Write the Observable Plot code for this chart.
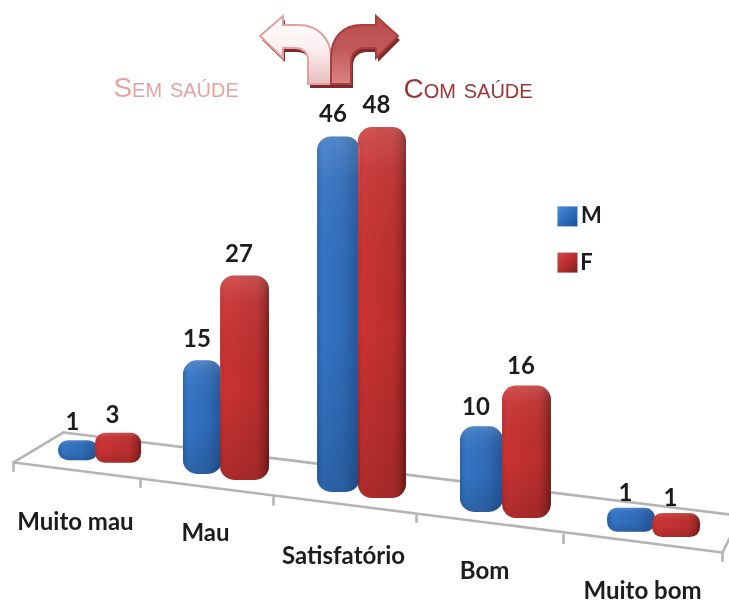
<!DOCTYPE html>
<html lang="pt">
<head>
<meta charset="utf-8">
<script src="https://cdn.jsdelivr.net/npm/d3@7"></script>
<script src="https://cdn.jsdelivr.net/npm/@observablehq/plot@0.6"></script>
<style>
html,body{margin:0;padding:0;background:#fff}
#chart svg{display:block;filter:blur(.45px)}
</style>
</head>
<body>
<div id="chart"></div>
<script>
// ---- chart data
const categories = ["Muito mau", "Mau", "Satisfatório", "Bom", "Muito bom"];
const seriesNames = ["M", "F"];
const valuesM = [1, 15, 46, 10, 1];
const valuesF = [3, 27, 48, 16, 1];
const headingLeft = "Sem saúde";
const headingRight = "Com saúde";

// ---- perspective layout of the tilted floor (in scale units)
const floorTicks = [0, 1, 2, 3, 4, 5];
const floorFront = [5.02, 2.90, 0.55, -1.72, -4.5, -6.86];
const barStart = [0.354, 0.323, 0.308, 0.299, 0.277];
const barSplitM = [0.669, 0.617, 0.608, 0.592, 0.579];
const barSplitF = [0.646, 0.602, 0.594, 0.585, 0.560];
const barEnd = [1.008, 0.970, 0.930, 0.918, 0.862];
const floorM = [5.25, 3.43, 1.06, -1.58, -4.2];
const floorF = [4.9, 2.64, 0.26, -2.38, -4.9];
const depthScale = [0.66, 1, 1.02, 1.03, 1];
const bevel = [1.98, 0, 0, 1, 2.17];
const labelLift = [2.4, 2.8, 3.0, 2.6, 2.0];
const categoryX = [0.488, 1.489, 2.49, 3.463, 4.497];
const categoryY = [-2.9, -4.36, -7.39, -9.37, -12.05];
const isFlat = [true, false, false, false, true];

const bars = categories.flatMap((category, i) => [
  {category, series: "M", flat: isFlat[i], value: valuesM[i], x1: i + barStart[i], x2: i + barSplitM[i],
   y1: floorM[i], y2: floorM[i] + valuesM[i] * depthScale[i] + bevel[i], lift: labelLift[i]},
  {category, series: "F", flat: isFlat[i], value: valuesF[i], x1: i + barSplitF[i], x2: i + barEnd[i],
   y1: floorF[i], y2: floorF[i] + valuesF[i] * depthScale[i] + bevel[i], lift: labelLift[i]}
]);
const tallBars = bars.filter(d => !d.flat);
const flatBars = bars.filter(d => d.flat);

const floorEdges = [
  [{x: 0, y: 5.02}, {x: 5, y: -6.86}, {x: 5.044, y: -5.02}],
  [{x: 0.394, y: 8.98}, {x: 5.044, y: -1.85}],
  [{x: 0, y: 5.02}, {x: 0.394, y: 8.98}]
];

const legend = [
  {name: seriesNames[0], x: 4.025, y: 37.5, tx: 4.176, fill: "url(#swBlue)"},
  {name: seriesNames[1], x: 4.025, y: 31.4, tx: 4.145, fill: "url(#swRed)"}
];

const SVGNS = "http://www.w3.org/2000/svg";
function raw(html) {
  return () => {
    const g = document.createElementNS(SVGNS, "g");
    g.innerHTML = html;
    return g;
  };
}

const defs = `<defs>
<linearGradient id="blue" x1="0" x2="1" y1="0" y2="0">
 <stop offset="0" stop-color="#2a63ad"/><stop offset=".14" stop-color="#3474c4"/>
 <stop offset=".6" stop-color="#2f6cb8"/><stop offset="1" stop-color="#245597"/>
</linearGradient>
<linearGradient id="red" x1="0" x2="1" y1="0" y2="0">
 <stop offset="0" stop-color="#bd2e2e"/><stop offset=".12" stop-color="#c93332"/>
 <stop offset=".75" stop-color="#b92f2e"/><stop offset=".9" stop-color="#9c2625"/><stop offset="1" stop-color="#741b1b"/>
</linearGradient>
<linearGradient id="gloss" x1="0" x2="0" y1="0" y2="1">
 <stop offset="0" stop-color="#fff" stop-opacity=".16"/><stop offset=".12" stop-color="#fff" stop-opacity=".05"/>
 <stop offset=".55" stop-color="#000" stop-opacity="0"/><stop offset="1" stop-color="#000" stop-opacity=".14"/>
</linearGradient>
<linearGradient id="swBlue" x1="0" x2="1" y1="0" y2="1">
 <stop offset="0" stop-color="#4a8ad6"/><stop offset=".5" stop-color="#2f6fbd"/><stop offset="1" stop-color="#1f4f8e"/>
</linearGradient>
<linearGradient id="swRed" x1="0" x2="1" y1="0" y2="1">
 <stop offset="0" stop-color="#d04a4a"/><stop offset=".5" stop-color="#b92f2f"/><stop offset="1" stop-color="#7a1f1f"/>
</linearGradient>
<linearGradient id="arrowL" x1="0" x2="0" y1="0" y2="1">
 <stop offset="0" stop-color="#fff"/><stop offset=".5" stop-color="#fbeeee"/><stop offset="1" stop-color="#e9bcbc"/>
</linearGradient>
<linearGradient id="arrowR" x1="0" x2="0" y1="0" y2="1">
 <stop offset="0" stop-color="#b84b4b"/><stop offset=".5" stop-color="#c25a5a"/><stop offset="1" stop-color="#da8484"/>
</linearGradient>
</defs>`;

// decorative fork of arrows above the chart
const leftArrow = "M260,36 L283,16 L283,25 L298,25 C318,25 331,38 331,58 L331,84 L308,84 L308,60 C308,52 302,48 295,48 L283,48 L283,58 Z";
const rightArrow = "M398,36 L376,16 L376,25 L362,25 C342,25 331,38 331,58 L331,84 L351,84 L351,62 C351,53 357,48 365,48 L376,48 L376,58 Z";
const arrows = `<g>
 <path d="${leftArrow}" transform="translate(2,4)" fill="#7f2a2a"/>
 <path d="${rightArrow}" transform="translate(2,4)" fill="#7f2a2a"/>
 <path d="${leftArrow}" fill="url(#arrowL)" stroke="#e3a0a0" stroke-width="2"/>
 <path d="${rightArrow}" fill="url(#arrowR)" stroke="#a93d3d" stroke-width="2"/>
</g>`;

const barMarks = (data, rx) => [
  Plot.rect(data, {x1: "x1", x2: "x2", y1: "y1", y2: "y2", rx,
    fill: d => d.series === "M" ? "url(#blue)" : "url(#red)"}),
  Plot.rect(data, {x1: "x1", x2: "x2", y1: "y1", y2: "y2", rx, fill: "url(#gloss)"})
];

const chart = Plot.plot({
  width: 729,
  height: 606,
  margin: 0,
  style: {background: "#fff", fontFamily: "Lato, sans-serif"},
  x: {type: "linear", domain: floorTicks, range: [13, 140, 273, 416, 563, 722], axis: null},
  y: {type: "linear", domain: [-14, 66], range: [606, 0], axis: null},
  marks: [
    raw(defs),
    ...floorEdges.map(edge => Plot.line(edge, {x: "x", y: "y", stroke: "#b4b4b4", strokeWidth: 2.6})),
    Plot.ruleX(floorTicks, {x: d => d, y1: d => floorFront[d], y2: d => floorFront[d] - 1.3,
      stroke: "#b4b4b4", strokeWidth: 2.6}),
    ...barMarks(tallBars, 14),
    ...barMarks(flatBars, 10),
    Plot.text(bars, {
      x: d => (d.x1 + d.x2) / 2, y: d => d.y2 + d.lift, text: d => String(d.value), dx: -6,
      fontSize: 24, fontWeight: 700, fill: "#1c1c1c"
    }),
    Plot.text(categories, {
      x: (d, i) => categoryX[i], y: (d, i) => categoryY[i], text: d => d,
      fontSize: 24, fontWeight: 700, fill: "#1c1c1c"
    }),
    Plot.dot(legend, {x: "x", y: "y", symbol: "square", r: 11.3, fill: "fill", stroke: "none"}),
    Plot.text(legend, {x: "tx", y: "y", text: "name", fontSize: 22, fontWeight: 700, fill: "#1c1c1c"}),
    Plot.text([headingLeft], {
      x: [0.787], y: [54.5], text: d => d, textAnchor: "start", fontSize: 28,
      fontVariant: "small-caps", fontFamily: "Liberation Sans", fill: "#e4a3a3"
    }),
    Plot.text([headingRight], {
      x: [2.909], y: [54.3], text: d => d, textAnchor: "start", fontSize: 28,
      fontVariant: "small-caps", fontFamily: "Liberation Sans", fill: "#9b3636"
    }),
    raw(arrows)
  ]
});
document.getElementById("chart").append(chart);
</script>
</body>
</html>
